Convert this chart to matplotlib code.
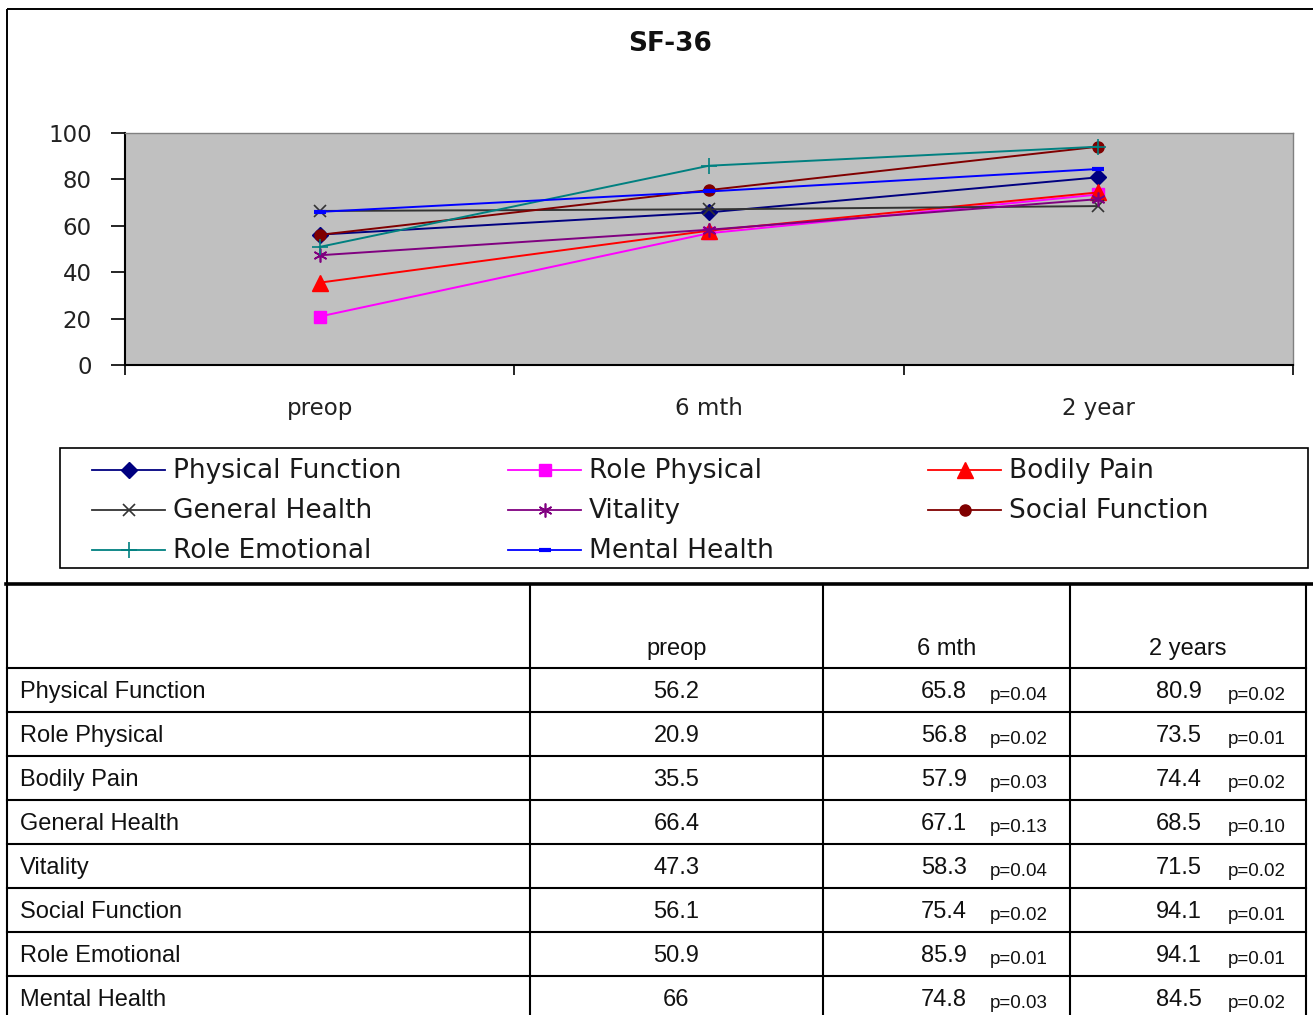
"""SF-36 scores at preop, 6 months and 2 years: line chart with summary table."""

import matplotlib

matplotlib.use("Agg")
import matplotlib.pyplot as plt
from matplotlib.lines import Line2D
from matplotlib.patches import Rectangle

W, H = 1313, 1015

periods = ["preop", "6 mth", "2 year"]
table_periods = ["preop", "6 mth", "2 years"]
scales = [
    "Physical Function", "Role Physical", "Bodily Pain", "General Health",
    "Vitality", "Social Function", "Role Emotional", "Mental Health",
]
preop = [56.2, 20.9, 35.5, 66.4, 47.3, 56.1, 50.9, 66]
mth6 = [65.8, 56.8, 57.9, 67.1, 58.3, 75.4, 85.9, 74.8]
year2 = [80.9, 73.5, 74.4, 68.5, 71.5, 94.1, 94.1, 84.5]
p_mth6 = ["0.04", "0.02", "0.03", "0.13", "0.04", "0.02", "0.01", "0.03"]
p_year2 = ["0.02", "0.01", "0.02", "0.10", "0.02", "0.01", "0.01", "0.02"]

colors = ["#000080", "#FF00FF", "#FF0000", "#333333",
          "#800080", "#800000", "#008080", "#0000FF"]
markers = ["D", "s", "^", "x", (6, 2, 0), "o", "+", "_"]
msizes = [8, 8, 11, 8, 10, 8, 12, 9]
mews = [1, 1, 1, 1.2, 1.2, 1, 1.2, 3]

CHART_FONT = "DejaVu Sans"
TABLE_FONT = "Liberation Sans"

fig = plt.figure(figsize=(W / 100, H / 100), dpi=100)

# full-figure overlay in pixel units for frames, legend and table
ov = fig.add_axes([0, 0, 1, 1], zorder=0)
ov.set_xlim(0, W)
ov.set_ylim(H, 0)
ov.axis("off")

# chart area frame
ov.add_patch(Rectangle((7, 9), W + 20, 575, fill=False, lw=1.4, ec="black"))

# plot area
ax = fig.add_axes([125 / W, 1 - 365 / H, 1168 / W, 232 / H], zorder=1)
ax.set_facecolor("#C0C0C0")
xs = range(len(periods))
for i, name in enumerate(scales):
    ax.plot(xs, [preop[i], mth6[i], year2[i]], color=colors[i], lw=1.4,
            marker=markers[i], ms=msizes[i], mew=mews[i],
            mfc=colors[i], mec=colors[i], clip_on=False)

ax.set_xlim(-0.5, 2.5)
ax.set_ylim(0, 100)
ax.set_yticks(range(0, 101, 20))
ax.set_xticks([-0.5, 0.5, 1.5, 2.5])
ax.set_xticklabels([])
ax.set_xticks(list(xs), minor=True)
ax.set_xticklabels(periods, minor=True)
ax.tick_params(axis="x", which="minor", length=0, pad=23, labelsize=16.5,
               labelcolor="#222222")
ax.tick_params(axis="x", which="major", length=7, width=1.2, direction="out")
ax.tick_params(axis="y", length=10, width=1.2, pad=14, labelsize=16.5,
               labelcolor="#222222")
for lab in ax.get_xticklabels(minor=True) + ax.get_yticklabels():
    lab.set_family(CHART_FONT)
for side in ("left", "bottom"):
    ax.spines[side].set_color("black")
    ax.spines[side].set_linewidth(1.5)
for side in ("top", "right"):
    ax.spines[side].set_color("#808080")
    ax.spines[side].set_linewidth(1.0)

fig.text(670 / W, 1 - 44 / H, "SF-36", ha="center", va="center",
         fontsize=19, fontweight="bold", family=CHART_FONT, color="#111111")

# legend, three columns filled row by row
ov.add_patch(Rectangle((60, 448), 1248, 120, fill=False, lw=1.2, ec="black"))
col_x = [92, 508, 928]
row_y = [470, 510, 550]
for i, name in enumerate(scales):
    x0 = col_x[i % 3]
    y = row_y[i // 3]
    ov.add_line(Line2D([x0, x0 + 73], [y, y], color=colors[i], lw=1.3))
    ov.plot([x0 + 36.5], [y], marker=markers[i], ms=msizes[i], mew=mews[i],
            color=colors[i], mfc=colors[i], mec=colors[i])
    ov.text(x0 + 81, y + 8, name, va="baseline", ha="left", fontsize=19,
            family=CHART_FONT, color="#1a1a1a")

# summary table
col_edges = [7, 530, 823, 1070, 1306]
header_top, header_bot = 584, 668
row_h = 44
n_rows = len(scales)
table_bottom = header_bot + row_h * n_rows

ov.plot([6, W], [header_top, header_top], color="black", lw=2.6)
for xe in col_edges:
    ov.plot([xe, xe], [header_top, table_bottom], color="black", lw=1.5)
for r in range(n_rows + 1):
    y = header_bot + r * row_h
    ov.plot([col_edges[0], col_edges[-1]], [y, y], color="black", lw=1.5)

centers = [(col_edges[k] + col_edges[k + 1]) / 2 for k in range(1, 4)]
for k, label in enumerate(table_periods):
    ov.text(centers[k], header_bot - 13, label, ha="center", va="baseline",
            fontsize=17, family=TABLE_FONT, color="#111111")

for r, name in enumerate(scales):
    base = header_bot + r * row_h + 30
    ov.text(20, base, name, ha="left", va="baseline", fontsize=17,
            family=TABLE_FONT, color="#111111")
    ov.text(centers[0], base, f"{preop[r]:g}", ha="center", va="baseline",
            fontsize=17, family=TABLE_FONT, color="#111111")
    ov.text(967, base, f"{mth6[r]:g}", ha="right", va="baseline",
            fontsize=17, family=TABLE_FONT, color="#111111")
    ov.text(990, base + 2, f"p={p_mth6[r]}", ha="left", va="baseline",
            fontsize=13.5, family=TABLE_FONT, color="#111111")
    ov.text(1202, base, f"{year2[r]:g}", ha="right", va="baseline",
            fontsize=17, family=TABLE_FONT, color="#111111")
    ov.text(1228, base + 2, f"p={p_year2[r]}", ha="left", va="baseline",
            fontsize=13.5, family=TABLE_FONT, color="#111111")

fig.savefig("out.png", dpi=100, facecolor="white")
